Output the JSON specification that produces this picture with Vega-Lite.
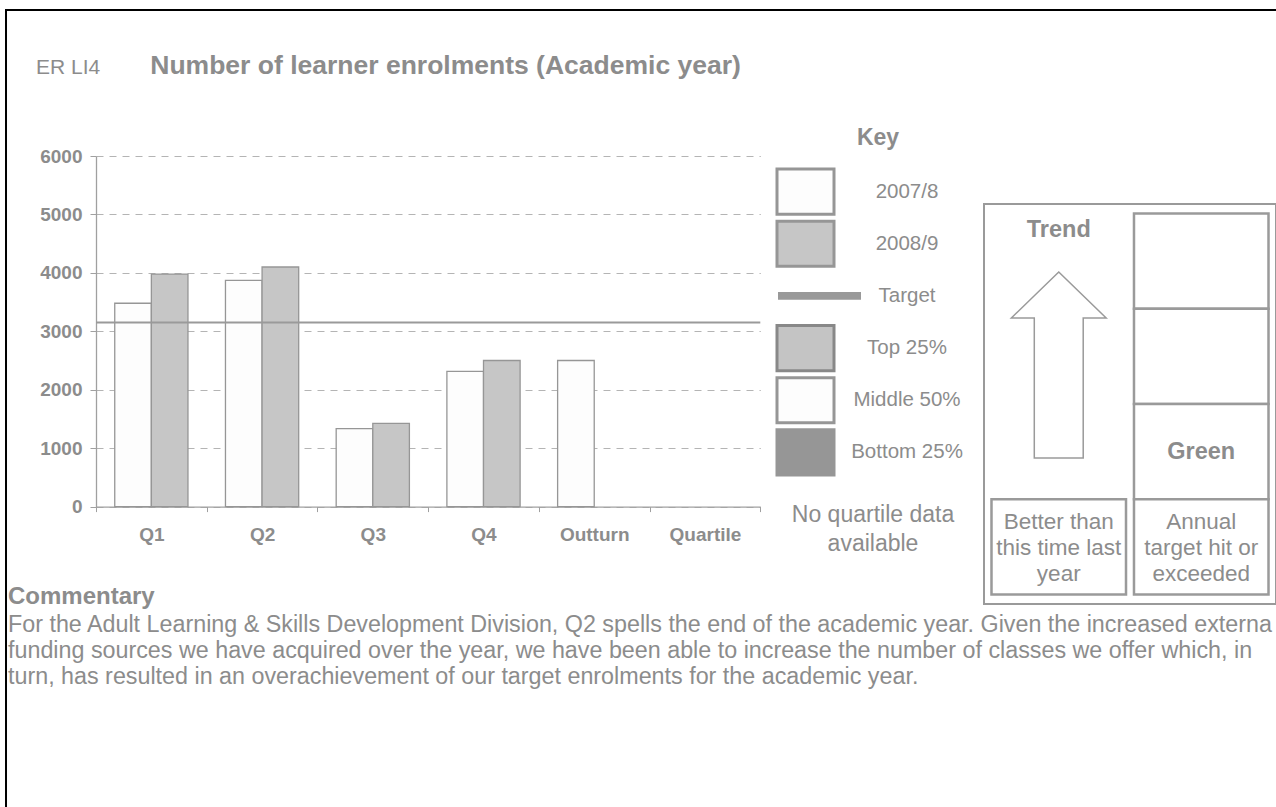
{
  "$schema": "https://vega.github.io/schema/vega-lite/v6.json",
  "background": "#ffffff",
  "padding": {"left": 5, "top": 9, "right": 0, "bottom": 0},
  "config": {
    "font": "Liberation Sans",
    "view": {"stroke": null},
    "axis": {"labelFont": "Liberation Sans", "titleFont": "Liberation Sans"},
    "title": {"font": "Liberation Sans", "color": "#8c8c8c"}
  },
  "datasets": {
    "enrolments": [
      {"period": "Q1", "series": "2007/8", "value": 3480},
      {"period": "Q1", "series": "2008/9", "value": 3980},
      {"period": "Q2", "series": "2007/8", "value": 3870},
      {"period": "Q2", "series": "2008/9", "value": 4100},
      {"period": "Q3", "series": "2007/8", "value": 1335},
      {"period": "Q3", "series": "2008/9", "value": 1425},
      {"period": "Q4", "series": "2007/8", "value": 2315},
      {"period": "Q4", "series": "2008/9", "value": 2500},
      {"period": "Outturn", "series": "2007/8", "value": 2500}
    ],
    "target": [{"target": 3150}],
    "key": [
      {"item": "2007/8"},
      {"item": "2008/9"},
      {"item": "Target"},
      {"item": "Top 25%"},
      {"item": "Middle 50%"},
      {"item": "Bottom 25%"}
    ],
    "grid": [
      {"column": "Target", "row": "Red"},
      {"column": "Target", "row": "Amber"},
      {"column": "Target", "row": "Green"},
      {"column": "Target", "row": "Caption"},
      {"column": "Trend", "row": "Caption"}
    ],
    "trend": [{"column": "Trend", "row": "Amber", "direction": "up"}],
    "headings": [
      {"column": "Trend", "row": "Red", "text": "Trend"},
      {"column": "Target", "row": "Green", "text": "Green"}
    ],
    "captions": [
      {"column": "Trend", "row": "Caption", "text": "Better than\nthis time last\nyear"},
      {"column": "Target", "row": "Caption", "text": "Annual\ntarget hit or\nexceeded"}
    ],
    "commentary": [
      {"part": "heading", "text": "Commentary"},
      {"part": "body", "text": "For the Adult Learning & Skills Development Division, Q2 spells the end of the academic year. Given the increased external\nfunding sources we have acquired over the year, we have been able to increase the number of classes we offer which, in\nturn, has resulted in an overachievement of our target enrolments for the academic year."}
    ]
  },
  "bounds": "flush",
  "spacing": 0,
  "vconcat": [
    {"width": 1269, "height": 0.01, "data": {"values": []}, "mark": "point", "view": {"stroke": "#000000", "strokeWidth": 2}},
    {
      "bounds": "flush",
      "spacing": 0,
      "hconcat": [
        {"width": 0.01, "height": 796, "data": {"values": []}, "mark": "point", "view": {"stroke": "#000000", "strokeWidth": 2}},
        {"width": 1, "height": 0.01, "data": {"values": []}, "mark": "point"},
        {
          "bounds": "flush",
          "spacing": 0,
          "vconcat": [
            {"width": 1, "height": 579, "data": {"values": []}, "mark": "point"},
            {
              "width": 1268,
              "height": 56,
              "data": {"name": "commentary"},
              "encoding": {
                "x": {"value": 0},
                "y": {"field": "part", "type": "nominal", "scale": {"domain": ["heading", "body"], "paddingInner": 0, "paddingOuter": 0}, "axis": null},
                "text": {"field": "text"}
              },
              "layer": [
                {
                  "transform": [{"filter": "datum.part === 'heading'"}],
                  "mark": {"type": "text", "align": "left", "baseline": "alphabetic", "fontSize": 24, "fontWeight": "bold", "color": "#8c8c8c"}
                },
                {
                  "transform": [{"filter": "datum.part === 'body'"}],
                  "mark": {"type": "text", "align": "left", "baseline": "alphabetic", "fontSize": 23.3, "color": "#8c8c8c", "lineBreak": "\n", "lineHeight": 26, "limit": 1266, "ellipsis": "\u200b"}
                }
              ]
            }
          ]
        },
        {
          "width": 87.7, "height": 0.01, "data": {"values": []}, "mark": "point",
          "title": {"text": "ER LI4", "orient": "bottom", "anchor": "start", "frame": "group", "offset": 62.5, "dx": 28, "baseline": "alphabetic", "fontSize": 21, "fontWeight": "normal", "color": "#8c8c8c"}
        },
        {
          "bounds": "flush",
          "spacing": 0,
          "vconcat": [
            {"width": 1, "height": 145, "data": {"values": []}, "mark": "point"},
            {
              "width": 664.3,
              "height": 350.6,
              "title": {"text": "Number of learner enrolments (Academic year)", "anchor": "start", "frame": "group", "dx": 54.3, "offset": 47, "baseline": "alphabetic", "fontSize": 26.5, "fontWeight": "bold", "color": "#8c8c8c"},
              "layer": [
                {
                  "data": {"name": "enrolments"},
                  "mark": {"type": "bar", "stroke": "#969696", "strokeWidth": 1.3},
                  "encoding": {
                    "x": {
                      "field": "period", "type": "nominal",
                      "scale": {"domain": ["Q1", "Q2", "Q3", "Q4", "Outturn", "Quartile"], "paddingInner": 0, "paddingOuter": 0},
                      "axis": {"title": null, "labelAngle": 0, "tickBand": "extent", "tickSize": 5, "tickColor": "#a0a0a0", "domainColor": "#a0a0a0", "domainWidth": 1.3, "labelFontSize": 19, "labelFontWeight": "bold", "labelColor": "#8c8c8c", "labelBaseline": "alphabetic", "labelPadding": 29, "grid": false}
                    },
                    "xOffset": {"field": "series", "type": "nominal", "scale": {"domain": ["2007/8", "2008/9"], "paddingInner": 0, "paddingOuter": 0.512}},
                    "y": {
                      "field": "value", "type": "quantitative",
                      "scale": {"domain": [0, 6000], "nice": false},
                      "axis": {"title": null, "values": [0, 1000, 2000, 3000, 4000, 5000, 6000], "format": "d", "labelFontSize": 19, "labelFontWeight": "bold", "labelColor": "#8c8c8c", "labelPadding": 8, "tickSize": 6, "tickColor": "#a0a0a0", "domainColor": "#a0a0a0", "domainWidth": 1.3, "grid": true, "gridDash": [7, 6], "gridColor": "#b4b4b4", "gridWidth": 1}
                    },
                    "fill": {"field": "series", "type": "nominal", "scale": {"domain": ["2007/8", "2008/9"], "range": ["#fdfdfd", "#c6c6c6"]}, "legend": null}
                  }
                },
                {
                  "data": {"name": "target"},
                  "mark": {"type": "rule", "stroke": "#9a9a9a", "strokeWidth": 2},
                  "encoding": {"y": {"field": "target", "type": "quantitative"}}
                }
              ]
            }
          ]
        },
        {"width": 680.3, "height": 0.01, "data": {"values": []}, "mark": "point"},
        {
          "bounds": "flush",
          "spacing": 0,
          "vconcat": [
            {"width": 1, "height": 157.5, "data": {"values": []}, "mark": "point"},
            {
              "width": 191,
              "height": 306,
              "title": {"text": "Key", "anchor": "middle", "frame": "group", "offset": 0, "dx": 5.5, "baseline": "alphabetic", "fontSize": 23, "fontWeight": "bold", "color": "#8c8c8c"},
              "data": {"name": "key"},
              "layer": [
                {
                  "transform": [{"filter": "datum.item !== 'Target'"}],
                  "mark": {"type": "rect", "strokeWidth": 3},
                  "encoding": {
                    "x": {"datum": "swatch", "type": "nominal", "scale": {"domain": ["swatch", "label"], "paddingInner": 0.4384, "paddingOuter": 0.16, "align": 0},
                      "axis": {"title": ["No quartile data", "available"], "labels": false, "ticks": false, "domain": false, "grid": false, "titlePadding": 28, "titleFontSize": 23, "titleFontWeight": "normal", "titleColor": "#8c8c8c", "titleLineHeight": 29}},
                    "y": {"field": "item", "type": "nominal", "sort": null, "scale": {"domain": ["2007/8", "2008/9", "Target", "Top 25%", "Middle 50%", "Bottom 25%"], "paddingInner": 0.135, "paddingOuter": 0}, "axis": null},
                    "fill": {"condition": [
                      {"test": "datum.item === '2008/9'", "value": "#c6c6c6"},
                      {"test": "datum.item === 'Top 25%'", "value": "#c4c4c4"},
                      {"test": "datum.item === 'Bottom 25%'", "value": "#969696"}
                    ], "value": "#fdfdfd"},
                    "stroke": {"condition": [{"test": "datum.item === 'Top 25%'", "value": "#888888"}], "value": "#969696"}
                  }
                },
                {
                  "transform": [{"filter": "datum.item === 'Target'"}],
                  "mark": {"type": "point", "shape": "M-1,-0.14H2.018V0.14H-1Z", "size": 3025, "filled": true, "fill": "#999999", "strokeWidth": 0, "opacity": 1},
                  "encoding": {
                    "x": {"datum": "swatch", "type": "nominal",
                      "axis": {"title": ["No quartile data", "available"], "labels": false, "ticks": false, "domain": false, "grid": false, "titlePadding": 28, "titleFontSize": 23, "titleFontWeight": "normal", "titleColor": "#8c8c8c", "titleLineHeight": 29}},
                    "y": {"field": "item", "type": "nominal", "sort": null, "axis": null}
                  }
                },
                {
                  "mark": {"type": "text", "fontSize": 20.5, "color": "#8c8c8c", "align": "center", "baseline": "middle"},
                  "encoding": {
                    "x": {"datum": "label", "type": "nominal",
                      "axis": {"title": ["No quartile data", "available"], "labels": false, "ticks": false, "domain": false, "grid": false, "titlePadding": 28, "titleFontSize": 23, "titleFontWeight": "normal", "titleColor": "#8c8c8c", "titleLineHeight": 29}},
                    "y": {"field": "item", "type": "nominal", "sort": null, "axis": null},
                    "text": {"field": "item"}
                  }
                }
              ]
            }
          ]
        },
        {"width": 207, "height": 0.01, "data": {"values": []}, "mark": "point"},
        {
          "bounds": "flush",
          "spacing": 0,
          "vconcat": [
            {"width": 1, "height": 193, "data": {"values": []}, "mark": "point"},
            {
              "width": 292,
              "height": 400,
              "view": {"stroke": "#9a9a9a", "strokeWidth": 2},
              "layer": [
                {
                  "data": {"name": "grid"},
                  "mark": {"type": "rect", "fill": "#ffffff", "stroke": "#9a9a9a", "strokeWidth": 2.5},
                  "encoding": {
                    "x": {"field": "column", "type": "nominal", "scale": {"domain": ["Trend", "Target"], "paddingInner": 0.056, "paddingOuter": 0.0526}, "axis": null},
                    "y": {"field": "row", "type": "nominal", "scale": {"domain": ["Red", "Amber", "Green", "Caption"], "paddingInner": 0, "paddingOuter": 0.1}, "axis": null}
                  }
                },
                {
                  "data": {"name": "trend"},
                  "mark": {"type": "point", "shape": "M0,-1L0.51,-0.505L0.263,-0.505L0.263,1L-0.263,1L-0.263,-0.505L-0.51,-0.505Z", "size": 34596, "filled": true, "fill": "#ffffff", "stroke": "#9a9a9a", "strokeWidth": 1.5, "opacity": 1},
                  "encoding": {
                    "x": {"field": "column", "type": "nominal", "axis": null},
                    "y": {"field": "row", "type": "nominal", "bandPosition": 0.59, "axis": null}
                  }
                },
                {
                  "data": {"name": "headings"},
                  "transform": [{"filter": "datum.column === 'Trend'"}],
                  "mark": {"type": "text", "fontSize": 23.5, "fontWeight": "bold", "color": "#8c8c8c", "align": "center", "baseline": "middle"},
                  "encoding": {
                    "x": {"field": "column", "type": "nominal", "axis": null},
                    "y": {"field": "row", "type": "nominal", "bandPosition": 0.173, "axis": null},
                    "text": {"field": "text"}
                  }
                },
                {
                  "data": {"name": "headings"},
                  "transform": [{"filter": "datum.column === 'Target'"}],
                  "mark": {"type": "text", "fontSize": 23.5, "fontWeight": "bold", "color": "#8c8c8c", "align": "center", "baseline": "middle"},
                  "encoding": {
                    "x": {"field": "column", "type": "nominal", "axis": null},
                    "y": {"field": "row", "type": "nominal", "axis": null},
                    "text": {"field": "text"}
                  }
                },
                {
                  "data": {"name": "captions"},
                  "mark": {"type": "text", "fontSize": 22.5, "color": "#8c8c8c", "align": "center", "baseline": "middle", "lineBreak": "\n", "lineHeight": 26},
                  "encoding": {
                    "x": {"field": "column", "type": "nominal", "axis": null},
                    "y": {"field": "row", "type": "nominal", "bandPosition": 0.238, "axis": null},
                    "text": {"field": "text"}
                  }
                }
              ]
            }
          ]
        }
      ]
    }
  ]
}
